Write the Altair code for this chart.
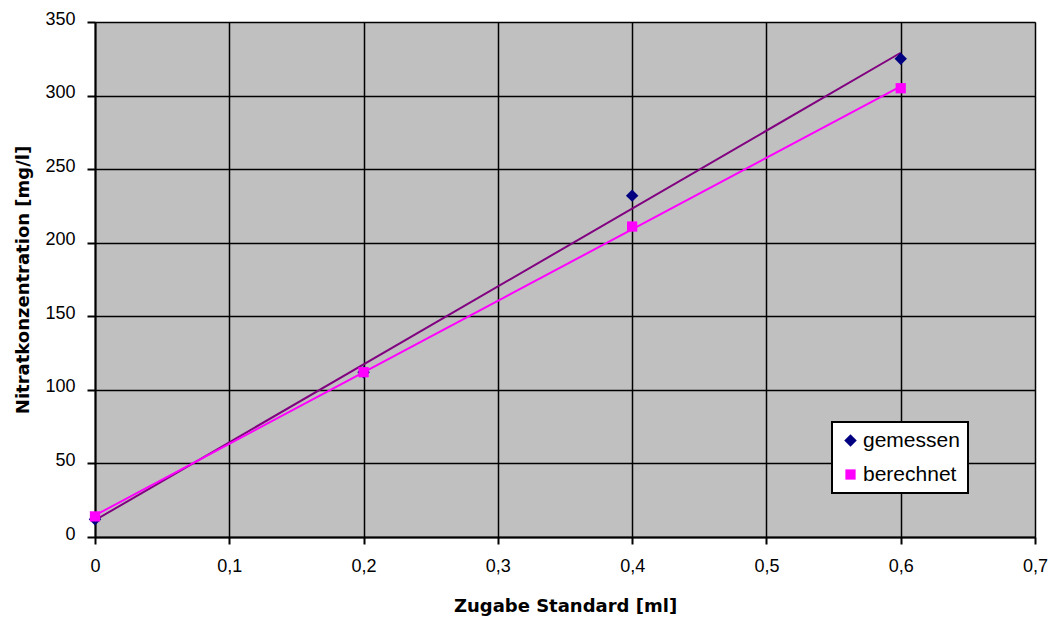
import altair as alt
import pandas as pd

# Standard addition: nitrate concentration vs. added standard volume
zugabe_ml = [0.0, 0.2, 0.4, 0.6]
gemessen = [12, 112, 232, 325]
berechnet = [14, 112, 211, 305]

series_names = ["gemessen", "berechnet"]
point_colors = ["#000080", "#FF00FF"]
point_shapes = ["diamond", "square"]
point_sizes = [155, 105]
fit_colors = {"gemessen": "#800080", "berechnet": "#FF00FF"}

x_ticks = [0, 0.1, 0.2, 0.3, 0.4, 0.5, 0.6, 0.7]
y_ticks = [0, 50, 100, 150, 200, 250, 300, 350]

rows = []
for name, values in (("gemessen", gemessen), ("berechnet", berechnet)):
    for x, y in zip(zugabe_ml, values):
        rows.append({"Zugabe": x, "Nitrat": y, "Reihe": name})
df = pd.DataFrame(rows)

decimal_comma = "datum.value == 0 ? '0' : replace(format(datum.value, '.1f'), '.', ',')"

x_enc = alt.X(
    "Zugabe:Q",
    scale=alt.Scale(domain=[0, 0.7], nice=False, zero=False),
    axis=alt.Axis(
        values=x_ticks,
        labelExpr=decimal_comma,
        labelFlush=False,
        title="Zugabe Standard [ml]",
        tickSize=7,
        labelPadding=13,
        titlePadding=22,
    ),
)
y_enc = alt.Y(
    "Nitrat:Q",
    scale=alt.Scale(domain=[0, 350], nice=False),
    axis=alt.Axis(
        values=y_ticks,
        labelFlush=False,
        title="Nitratkonzentration [mg/l]",
        tickSize=8,
        labelPadding=12,
        labelOffset=-3,
        titlePadding=12,
    ),
)

base = alt.Chart(df)

# Linear trend lines for each series
fit_layers = []
for name in series_names:
    fit_layers.append(
        base.transform_filter(alt.datum.Reihe == name)
        .transform_regression("Zugabe", "Nitrat", method="linear")
        .mark_line(color=fit_colors[name], strokeWidth=2, clip=True)
        .encode(x=x_enc, y=y_enc)
    )

legend = alt.Legend(
    orient="none",
    legendX=737,
    legendY=400,
    title=None,
    fillColor="white",
    strokeColor="black",
    padding=8,
    labelFont="Liberation Sans",
    labelFontSize=21,
    labelColor="black",
    symbolStrokeWidth=0,
    rowPadding=12,
    labelOffset=2,
)

points = base.mark_point(filled=True, opacity=1, strokeWidth=0).encode(
    x=x_enc,
    y=y_enc,
    color=alt.Color(
        "Reihe:N",
        scale=alt.Scale(domain=series_names, range=point_colors),
        legend=legend,
    ),
    shape=alt.Shape(
        "Reihe:N",
        scale=alt.Scale(domain=series_names, range=point_shapes),
        legend=legend,
    ),
    size=alt.Size(
        "Reihe:N",
        scale=alt.Scale(domain=series_names, range=point_sizes),
        legend=legend,
    ),
    # squares ("berechnet") drawn above the diamonds
    order=alt.Order("Reihe:N", sort="descending"),
)

chart = (
    alt.layer(*fit_layers, points)
    .properties(
        width=940,
        height=515,
        autosize=alt.AutoSizeParams(type="none"),
        padding={"left": 95, "top": 22, "right": 20, "bottom": 83},
        background="white",
    )
    .configure_view(fill="#C0C0C0", stroke="#808080", strokeWidth=1)
    .configure_axis(
        grid=True,
        gridColor="black",
        gridWidth=1.5,
        gridOpacity=1,
        domainColor="black",
        domainWidth=2,
        tickColor="black",
        tickWidth=2,
        labelFont="Liberation Sans",
        labelFontSize=18,
        labelColor="black",
        titleFont="DejaVu Sans",
        titleFontSize=18,
        titleFontWeight="bold",
        titleColor="black",
    )
    .configure_legend(strokeWidth=2)
)

chart.save("out.html", embed_options={"renderer": "svg", "actions": False})
